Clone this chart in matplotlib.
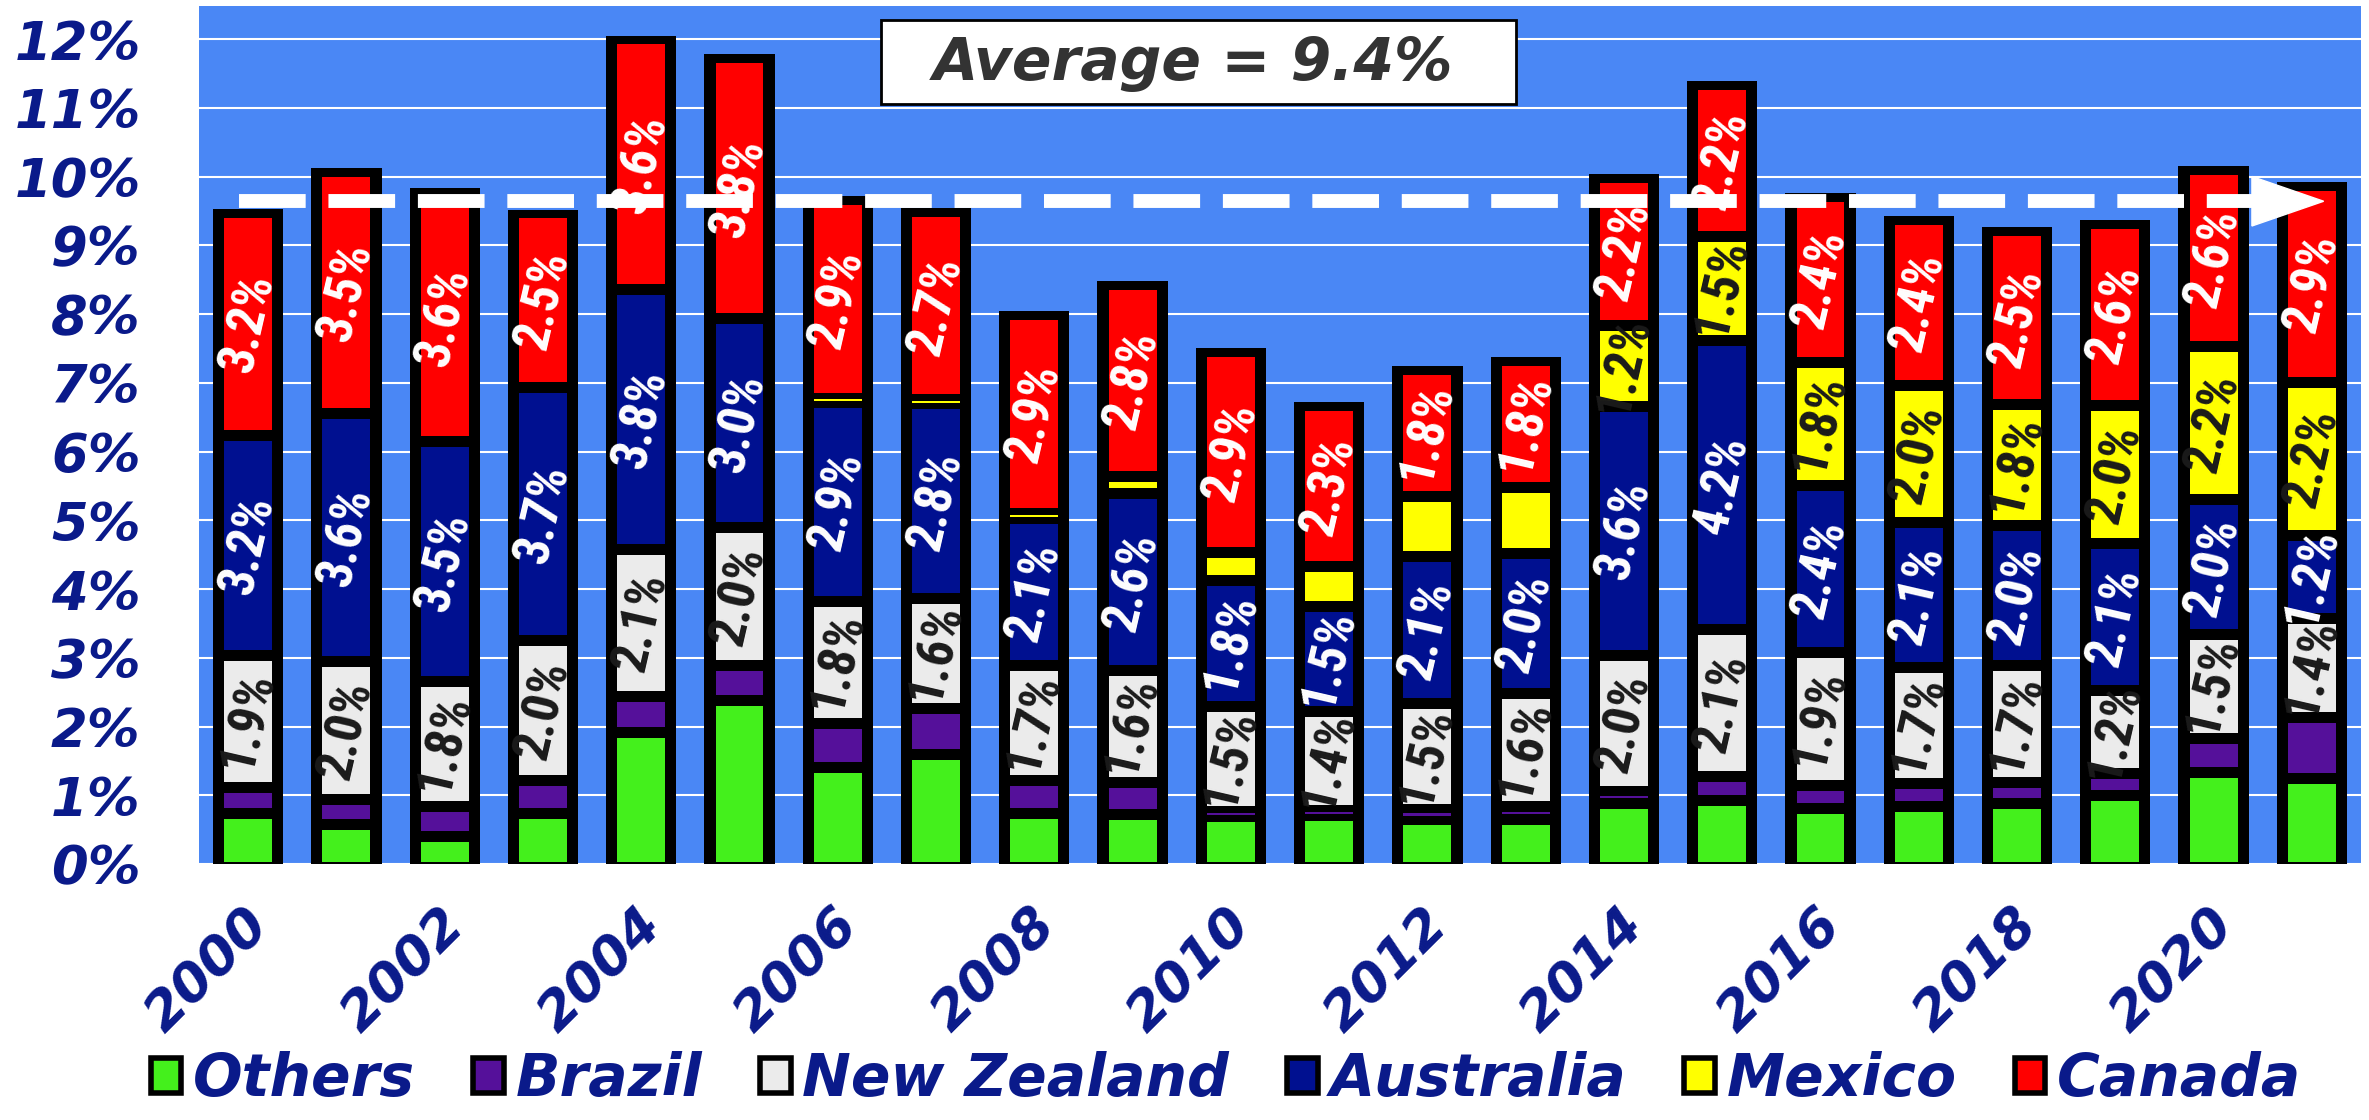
import matplotlib
matplotlib.use("Agg")
import matplotlib.pyplot as plt
import numpy as np
from matplotlib.patches import Patch, Rectangle, Polygon
from matplotlib.transforms import ScaledTranslation

# ---------------- data ----------------
years = list(range(2000, 2022))
others = [0.73, 0.57, 0.40, 0.73, 1.91, 2.38, 1.40, 1.60, 0.73, 0.72, 0.69,
          0.70, 0.65, 0.65, 0.88, 0.92, 0.81, 0.83, 0.88, 0.99, 1.33, 1.24]
brazil = [0.38, 0.37, 0.43, 0.48, 0.53, 0.51, 0.64, 0.66, 0.48, 0.47, 0.07,
          0.08, 0.14, 0.19, 0.18, 0.36, 0.33, 0.34, 0.31, 0.33, 0.49, 0.89]
new_zealand = [1.93, 2.00, 1.82, 2.04, 2.14, 2.00, 1.78, 1.60, 1.68, 1.63, 1.53,
               1.44, 1.54, 1.64, 1.98, 2.13, 1.93, 1.69, 1.70, 1.20, 1.52, 1.44]
australia = [3.20, 3.62, 3.49, 3.68, 3.78, 3.04, 2.90, 2.84, 2.14, 2.57, 1.84,
             1.53, 2.14, 2.04, 3.62, 4.21, 2.43, 2.11, 2.03, 2.14, 1.96, 1.21]
mexico = [0.00, 0.00, 0.00, 0.00, 0.00, 0.00, 0.05, 0.05, 0.07, 0.24, 0.40,
          0.58, 0.88, 0.96, 1.17, 1.51, 1.79, 1.99, 1.76, 2.01, 2.23, 2.23]
canada = [3.24, 3.52, 3.64, 2.54, 3.64, 3.80, 2.90, 2.74, 2.90, 2.80, 2.93,
          2.34, 1.84, 1.84, 2.16, 2.21, 2.42, 2.41, 2.53, 2.64, 2.57, 2.86]

series_names = ["Others", "Brazil", "New Zealand", "Australia", "Mexico", "Canada"]
series_values = [others, brazil, new_zealand, australia, mexico, canada]
series_colors = ["#44F01C", "#55109A", "#EBEBEB", "#001090", "#FFFF00", "#FF0000"]
label_colors = [None, None, "#1A1A1A", "white", "#1A1A1A", "white"]
label_min = [None, None, 0.0, 0.0, 1.0, 0.0]   # label only segments >= this

average_text = "Average = 9.4%"
trend_level = 9.64
ytick_vals = list(range(0, 13))
xtick_years = years[::2]

# ---------------- style ----------------
navy = "#0A1A8A"
bg_blue = "#4A87F5"
tick_font = dict(family="DejaVu Sans", weight="bold", style="italic")
label_family = ["Liberation Sans Narrow", "Roboto Condensed", "DejaVu Sans Condensed",
                "Roboto", "DejaVu Sans"]

W, H = 2369, 1120
fig = plt.figure(figsize=(W / 100, H / 100), dpi=100)
ax = fig.add_axes([199 / W, 1 - 864 / H, (2361 - 199) / W, (864 - 6) / H])
ax.set_facecolor(bg_blue)
for s in ax.spines.values():
    s.set_visible(False)

x = np.arange(len(years))
data = np.array(series_values)
bottoms = np.vstack([np.zeros(len(years)), np.cumsum(data, axis=0)[:-1]])
totals = data.sum(axis=0)

gap = 0.16          # black separation between segments (in % units)
outer_w = 0.715
inner_w = 0.487

# black column behind each stack
ax.bar(x, totals + 0.05, width=outer_w, color="black", zorder=2, linewidth=0)

for i, (vals, col) in enumerate(zip(data, series_colors)):
    b = bottoms[i]
    lo = b + gap / 2 if i > 0 else b + 0.03
    hi = b + vals - gap / 2
    h = hi - lo
    thin = (vals >= 0.04) & (h < 0.03)
    mid = b + vals / 2
    vis_h = np.where(thin, 0.03, np.clip(h, 0, None))
    vis_b = np.where(thin, mid - 0.015, lo)
    ax.bar(x, vis_h, bottom=vis_b, width=inner_w, color=col, zorder=3, linewidth=0)
    if label_colors[i] is not None:
        for xi, v, m in zip(x, vals, mid):
            if v > 0 and v >= label_min[i]:
                ax.text(xi, m, f"{v:.1f}%", rotation=77, rotation_mode="anchor",
                        ha="center", va="center", fontsize=37, fontweight="bold",
                        fontstretch="condensed", family=label_family,
                        color=label_colors[i], zorder=4)

# dashed trend arrow
ax.plot([-0.09, 20.39], [trend_level, trend_level], color="white", lw=10,
        linestyle=(0, (4.8, 1.64)), dash_capstyle="butt", zorder=5)
ax.add_patch(Polygon([[20.39, trend_level + 0.36], [20.39, trend_level - 0.36],
                      [21.12, trend_level]], closed=True, color="white", zorder=5))

# average box
ax.add_patch(Rectangle((6.44, 11.05), 6.46, 1.22, facecolor="white",
                       edgecolor="black", lw=2, zorder=6))
ax.text(9.62, 11.64, average_text, ha="center", va="center", fontsize=42,
        color="#333333", zorder=7, **tick_font)

# axes
ax.set_xlim(-0.5, len(years) - 0.5)
ax.set_ylim(0, 12.48)
ax.set_yticks(ytick_vals)
ax.set_yticklabels([f"{v}%" for v in ytick_vals], fontsize=38, color=navy, **tick_font)
ax.set_xticks([years.index(y) for y in xtick_years])
ax.set_xticklabels([str(y) for y in xtick_years], fontsize=39, color=navy,
                   rotation=45, ha="right", va="top", rotation_mode="anchor", **tick_font)
ax.tick_params(axis="both", length=0)
ax.tick_params(axis="y", pad=42)
ax.tick_params(axis="x", pad=25)
offset = ScaledTranslation(-6 / 100, 0, fig.dpi_scale_trans)
for lab in ax.get_xticklabels():
    lab.set_transform(lab.get_transform() + offset)

ax.yaxis.grid(True, color="white", lw=1.5)
ax.xaxis.grid(False)
ax.set_axisbelow(True)

# legend
handles = [Patch(facecolor=c, edgecolor="black", linewidth=4) for c in series_colors]
fig.legend(handles, series_names, loc="center", bbox_to_anchor=(0.5175, 0.036),
           ncol=6, frameon=False,
           prop=dict(family="DejaVu Sans", weight="bold", style="italic", size=42),
           labelcolor=navy, handlelength=0.52, handleheight=0.52,
           handletextpad=0.2, columnspacing=1.0)

fig.savefig("out.png", dpi=100)
